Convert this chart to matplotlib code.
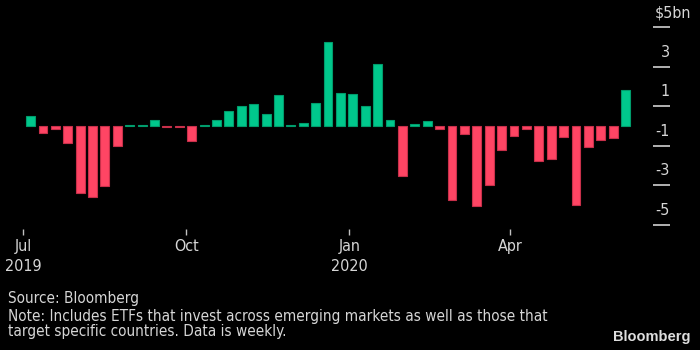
import matplotlib
matplotlib.use("Agg")
import matplotlib.pyplot as plt
import matplotlib.dates as mdates
import numpy as np
import pandas as pd

# weekly EM ETF flows, $bn
weeks = pd.date_range("2019-07-05", periods=49, freq="7D")
flows = [0.51, -0.34, -0.17, -0.88, -3.41, -3.61, -3.02, -1.01, 0.05, 0.05,
         0.32, -0.05, -0.05, -0.78, 0.05, 0.32, 0.76, 1.03, 1.10, 0.59,
         1.59, 0.05, 0.14, 1.15, 4.25, 1.69, 1.64, 1.03, 3.16, 0.32,
         -2.51, 0.08, 0.27, -0.17, -3.75, -0.39, -4.07, -2.97, -1.22, -0.49,
         -0.13, -1.77, -1.69, -0.54, -4.00, -1.05, -0.73, -0.59, 1.84]

y_ticks = [5, 3, 1, -1, -3, -5]
x_tick_dates = ["2019-07-01", "2019-10-01", "2020-01-01", "2020-04-01"]
x_tick_labels = ["Jul\n2019", "Oct", "Jan\n2020", "Apr"]

source = "Source: Bloomberg"
note = ("Note: Includes ETFs that invest across emerging markets as well as those that\n"
        "target specific countries. Data is weekly.")

GREEN = "#00c88c"
GREEN_EDGE = "#009c6c"
RED = "#ff4564"
RED_EDGE = "#c8304a"
TXT = "#d6d6d6"

plt.rcParams["font.family"] = ["DejaVu Sans"]
plt.rcParams["font.stretch"] = "condensed"

fig = plt.figure(figsize=(7, 3.5), dpi=100, facecolor="black")
ax = fig.add_axes([10 / 700, 0.3297, 643 / 700, 0.6094], facecolor="black")

vals = np.array(flows)
colors = [GREEN if v >= 0 else RED for v in vals]
edges = [GREEN_EDGE if v >= 0 else RED_EDGE for v in vals]
ax.bar(weeks, vals, width=5, color=colors, edgecolor=edges, linewidth=0.8)

start = mdates.date2num(weeks[0])
ax.set_xlim(start - 11.6, start - 11.6 + 643 / 1.771)
ax.set_ylim(-5.5, 5.3)

for s in ax.spines.values():
    s.set_visible(False)

ax.yaxis.tick_right()
ax.set_yticks(y_ticks)
ax.set_yticklabels([])
ax.tick_params(axis="y", direction="out", length=12.2, width=1.2, color="#d0d0d0", pad=0)
for v in y_ticks:
    if v == max(y_ticks):
        ax.annotate(f"${v}bn", xy=(1.0, v), xycoords=("axes fraction", "data"),
                    xytext=(1.5, 5), textcoords="offset points",
                    ha="left", va="bottom", color=TXT, fontsize=11.5)
    else:
        ax.annotate(f"{v}", xy=(1.0, v), xycoords=("axes fraction", "data"),
                    xytext=(12.2, 5), textcoords="offset points",
                    ha="right", va="bottom", color=TXT, fontsize=11.5)

ax.set_xticks(pd.to_datetime(x_tick_dates))
ax.set_xticklabels(x_tick_labels, color=TXT, fontsize=11.5, linespacing=1.45)
ax.tick_params(axis="x", direction="in", length=4.5, width=1, color="#c0c0c0", pad=3)

fig.text(8 / 700, 1 - 299 / 350, source, color=TXT, fontsize=11, va="center")
fig.text(8 / 700, 1 - 324 / 350, note, color=TXT, fontsize=11, va="center",
         linespacing=1.05)
fig.text(691 / 700, 1 - 337 / 350, "Bloomberg", color="#dedede", fontsize=10.5,
         fontweight="bold", family="Liberation Sans", stretch="normal",
         ha="right", va="center")

fig.savefig("out.png", dpi=100, facecolor="black")
